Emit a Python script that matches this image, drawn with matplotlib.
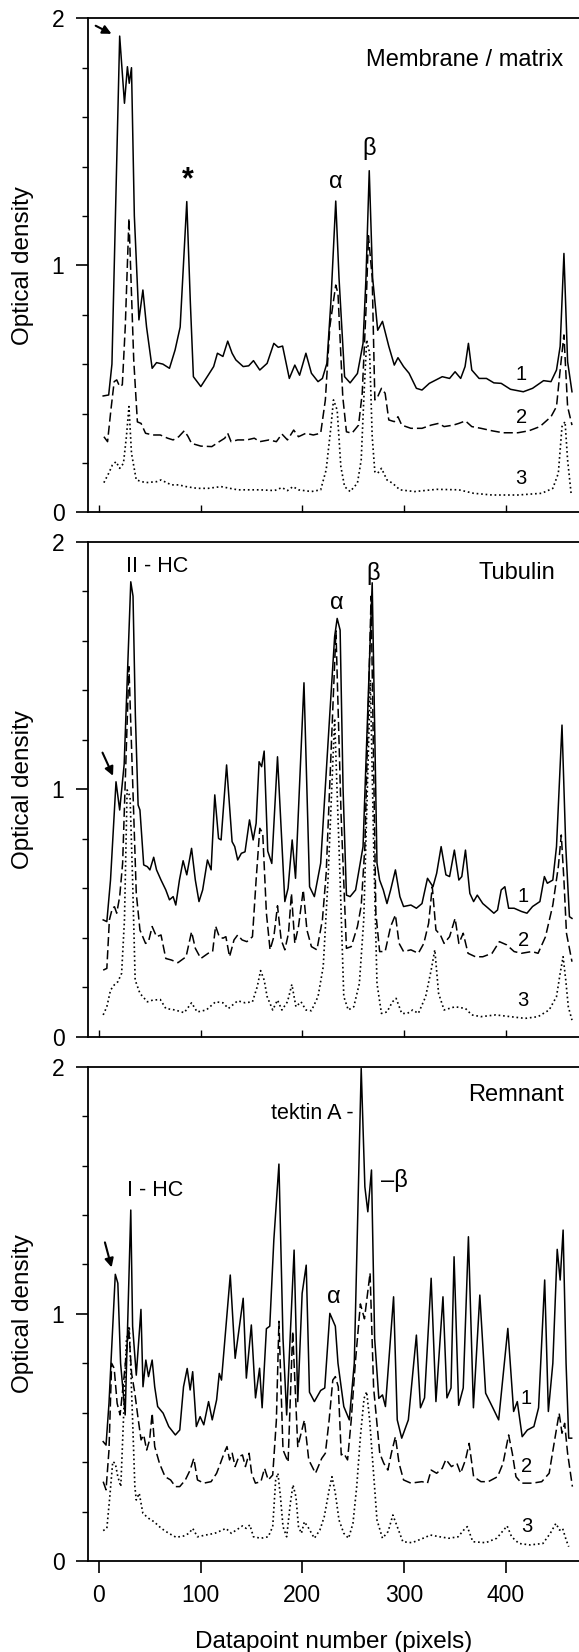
import matplotlib
matplotlib.use("Agg")
import matplotlib.pyplot as plt

plt.rcParams['font.family'] = ['Liberation Sans', 'DejaVu Sans']

# ---------------- data ----------------
# Panel 1: Membrane / matrix
p1_x1 = [4.4, 9.8, 13, 20.6, 25.3, 28.2, 30, 32.2, 35, 39.5, 43.4, 47, 52.5, 56.8, 63, 69.5, 75, 80, 86.5, 90, 93, 100.3, 107.5, 112.9,
         116.6, 122, 126.7, 131, 134.7, 141.9, 147.3, 152, 158.2, 165.4, 172, 176.3, 180.6, 187.2, 192.6, 197.3, 203.5,
         208.9, 215.4, 219.7, 224.1, 228, 232.8, 236, 241.5, 246.9, 254.1, 259.6, 262.5, 265.7, 269, 274, 278.7, 284.9,
         290.3, 293.9, 299.4, 304.8, 312, 317.5, 324.7, 337.4, 344.6, 350, 355.5, 359.8, 363.1, 366.4, 373.6, 380.8,
         388.1, 395.3, 404.4, 417, 426.1, 436.9, 444.2, 449.6, 453.2, 456.9, 460.5, 464.8]
p1_y1 = [0.471, 0.475, 0.60, 1.928, 1.656, 1.804, 1.737, 1.80, 1.20, 0.779, 0.90, 0.75, 0.583, 0.606, 0.600, 0.583, 0.657, 0.75, 1.258, 0.85, 0.549, 0.509, 0.555, 0.590,
         0.644, 0.631, 0.693, 0.644, 0.617, 0.590, 0.593, 0.614, 0.576, 0.603, 0.684, 0.668, 0.673, 0.542, 0.596, 0.555, 0.644,
         0.563, 0.529, 0.542, 0.603, 0.85, 1.260, 0.95, 0.549, 0.524, 0.562, 0.684, 0.95, 1.383, 0.95, 0.737, 0.773, 0.672,
         0.596, 0.626, 0.590, 0.563, 0.502, 0.495, 0.522, 0.549, 0.542, 0.569, 0.542, 0.590, 0.684, 0.576, 0.542, 0.542,
         0.524, 0.522, 0.498, 0.488, 0.502, 0.533, 0.529, 0.576, 0.672, 1.048, 0.610, 0.488]

p1_x2 = [5.1, 8.7, 12, 15.2, 17.7, 20.6, 23.2, 26.1, 29.7, 34.4, 38, 41.6, 46, 53.2, 60.5, 67.7, 73.1, 78.6, 84, 87.6, 91.2,
         100.3, 111.1, 118.4, 123.8, 126.7, 130, 136.5, 145.5, 152.8, 158.2, 167.3, 174.5, 179.9, 185.4, 191.5, 196.2,
         203.5, 210.7, 218, 222.6, 227, 232.8, 235, 239.7, 243.3, 248.7, 255.2, 258.8, 262.5, 264.9, 268.6, 271.2, 274,
         277.7, 281.3, 284.9, 290.3, 293.9, 297.6, 306.6, 317.5, 326.5, 333.8, 339.2, 348.3, 353.7, 360.2, 366.4, 375.4,
         386.3, 397.1, 411.6, 422.5, 433.3, 444.2, 449.6, 453.2, 456.9, 460.5, 464.8]
p1_y2 = [0.306, 0.286, 0.415, 0.529, 0.536, 0.509, 0.516, 0.752, 1.190, 0.617, 0.366, 0.360, 0.320, 0.313, 0.313, 0.300, 0.293, 0.306, 0.330, 0.308, 0.279,
         0.268, 0.266, 0.286, 0.300, 0.320, 0.286, 0.293, 0.293, 0.300, 0.286, 0.293, 0.286, 0.317, 0.293, 0.333, 0.306,
         0.320, 0.313, 0.320, 0.455, 0.752, 0.920, 0.886, 0.468, 0.326, 0.320, 0.353, 0.482, 0.819, 1.12, 0.95, 0.455, 0.468,
         0.502, 0.482, 0.374, 0.367, 0.387, 0.353, 0.340, 0.340, 0.353, 0.360, 0.347, 0.353, 0.360, 0.370, 0.347, 0.340,
         0.330, 0.322, 0.322, 0.330, 0.347, 0.387, 0.428, 0.576, 0.718, 0.428, 0.353]

p1_x3 = [5.1, 9.8, 13.4, 17, 20.6, 24.3, 27.2, 29.7, 32.2, 36.9, 46, 56.8, 61.2, 71.3, 78.6, 85.8, 96.7, 107.5, 120.2, 136.5,
         158.2, 172.7, 179.9, 185.4, 190.8, 196.2, 208.9, 218, 223.4, 228.1, 230.6, 234.2, 237.8, 241.5, 246.9, 254.1,
         257.8, 260.6, 263.2, 266.1, 268.6, 271.2, 274, 277.7, 283.1, 288.5, 295.8, 310.2, 332, 353.7, 368.2, 386.3,
         411.6, 435.1, 446, 451.4, 455, 458, 460.5, 464.1]
p1_y3 = [0.120, 0.158, 0.191, 0.205, 0.178, 0.198, 0.306, 0.428, 0.239, 0.131, 0.120, 0.124, 0.131, 0.111, 0.111, 0.104, 0.097, 0.097, 0.104, 0.091,
         0.091, 0.088, 0.100, 0.088, 0.104, 0.091, 0.084, 0.091, 0.172, 0.347, 0.455, 0.414, 0.185, 0.104, 0.084, 0.118,
         0.212, 0.482, 0.698, 0.644, 0.306, 0.164, 0.158, 0.178, 0.131, 0.118, 0.091, 0.084, 0.093, 0.091, 0.077, 0.070,
         0.070, 0.077, 0.097, 0.158, 0.347, 0.367, 0.212, 0.070]

# Panel 2: Tubulin
p2_x1 = [4.4, 8, 11.6, 17, 20.6, 25, 31.5, 33.7, 36, 38.7, 40.5, 44.2, 47.8, 50.3, 54, 56.8, 61.2, 65.9, 69.5, 73.1, 75.7, 79.3,
         82.9, 86.5, 91.2, 94.9, 98.5, 102.1, 106.8, 110.4, 114, 117.7, 120.2, 125.6, 131, 133.6, 136.5, 140.1, 143.7,
         148.1, 151.7, 154.6, 157.5, 160, 162.5, 166, 170, 175.6, 182.8, 186, 190, 193.3, 201.6, 207.1, 211.8, 218, 227,
         231.7, 234.2, 237.1, 240, 243.3, 246.9, 252.3, 259.6, 268.6, 273.3, 275.9, 279.5, 283.1, 286.7, 291.4, 295.8,
         299.4, 306.6, 312, 317.5, 322.9, 328.3, 331.9, 336.3, 341, 344.6, 349.3, 353.7, 356.6, 360.2, 364.5, 368.2,
         371.8, 377.2, 382.6, 388.1, 391.7, 395.3, 398.9, 402.6, 408, 415.2, 420.6, 426.1, 433.3, 437.7, 440.6, 446,
         449.6, 455, 458.7, 462.3, 464.8]
p2_y1 = [0.472, 0.465, 0.633, 1.030, 0.916, 1.10, 1.838, 1.78, 1.30, 0.936, 0.916, 0.694, 0.687, 0.674, 0.725, 0.674, 0.633, 0.593, 0.553, 0.566, 0.532, 0.633,
         0.711, 0.654, 0.761, 0.633, 0.546, 0.593, 0.714, 0.674, 0.977, 0.801, 0.795, 1.098, 0.788, 0.768, 0.714, 0.741, 0.747,
         0.876, 0.795, 0.862, 1.111, 1.091, 1.154, 0.75, 0.70, 1.131, 0.546, 0.60, 0.795, 0.640, 1.430, 0.606, 0.566, 0.701, 1.307,
         1.616, 1.690, 1.643, 1.0, 0.572, 0.566, 0.593, 0.768, 1.834, 0.701, 0.633, 0.593, 0.538, 0.593, 0.674, 0.566,
         0.526, 0.532, 0.519, 0.538, 0.640, 0.606, 0.660, 0.768, 0.654, 0.647, 0.754, 0.633, 0.647, 0.754, 0.579, 0.546,
         0.572, 0.538, 0.519, 0.499, 0.512, 0.593, 0.606, 0.519, 0.519, 0.506, 0.499, 0.526, 0.546, 0.647, 0.620, 0.633,
         0.768, 1.259, 0.768, 0.485, 0.478]

p2_x2 = [4.4, 8, 10.5, 13.4, 15.5, 17.7, 20.6, 23.5, 29.7, 36.9, 40.5, 46, 48.9, 52.5, 56.8, 61.2, 65.9, 71.3, 77.8, 85.8,
         91.2, 94.9, 100.3, 107.5, 111.9, 114.8, 118.4, 122, 124.9, 128.5, 132.9, 136.5, 140.8, 145.5, 151, 154.6, 158.2,
         161.1, 164.7, 168.3, 172, 175.6, 179.2, 182.8, 186.4, 189.3, 192.6, 196.2, 200.9, 204.5, 208.9, 214.3, 219.7,
         223.4, 233, 238, 243.3, 248, 254.1, 257.8, 261.4, 267.5, 272.2, 275.9, 281.3, 286.7, 291.4, 295, 299.4, 306.6,
         313.9, 319.3, 324, 327.6, 331.2, 335.6, 339.2, 344.6, 350, 353.7, 358, 362.7, 370, 377.2, 386.3, 393.5, 400.7,
         408, 415.2, 425.4, 431.5, 438.8, 446, 451.4, 454.3, 456.9, 459.4, 464.8]
p2_y2 = [0.269, 0.276, 0.472, 0.519, 0.525, 0.499, 0.566, 0.701, 1.495, 0.579, 0.431, 0.377, 0.384, 0.445, 0.404, 0.411, 0.316, 0.310, 0.299, 0.323,
         0.424, 0.357, 0.316, 0.337, 0.344, 0.447, 0.404, 0.398, 0.404, 0.323, 0.391, 0.411, 0.391, 0.384, 0.404, 0.633, 0.842,
         0.822, 0.499, 0.351, 0.404, 0.529, 0.391, 0.351, 0.418, 0.579, 0.377, 0.445, 0.593, 0.431, 0.364, 0.351, 0.472,
         0.660, 1.64, 0.90, 0.357, 0.364, 0.445, 0.529, 0.768, 1.78, 0.499, 0.344, 0.344, 0.445, 0.492, 0.377, 0.344, 0.351,
         0.337, 0.377, 0.458, 0.606, 0.431, 0.411, 0.377, 0.404, 0.478, 0.377, 0.418, 0.337, 0.323, 0.323, 0.337, 0.384, 0.371,
         0.344, 0.337, 0.344, 0.337, 0.404, 0.532, 0.687, 0.815, 0.633, 0.418, 0.303]

p2_x3 = [4.4, 8, 11.6, 15.2, 18.8, 22.5, 25.3, 27.9, 30.8, 33.3, 35.8, 40.5, 47.8, 53.2, 60.5, 65.9, 74.9, 84, 91.2, 96.7,
         105.7, 114.8, 122, 127.4, 136.5, 143.7, 151, 155.7, 159, 162.5, 165.4, 170.9, 175.6, 179.9, 185.4, 189.7, 193.7,
         198.7, 203.5, 208.9, 215.4, 220.5, 225.2, 231.7, 237.1, 240.7, 245.1, 250.5, 256, 260.3, 266.8, 270.4, 273.3,
         277.7, 283.1, 288.5, 292.1, 297.6, 303.1, 308.4, 313.9, 321.1, 326.5, 330.1, 333.8, 339.2, 350, 360.2, 366.4,
         375.4, 389.9, 404.4, 418.8, 431.5, 442.4, 449.6, 453.2, 456.1, 458.7, 461.2, 464.8]
p2_y3 = [0.088, 0.121, 0.188, 0.209, 0.222, 0.256, 0.472, 0.997, 0.970, 0.633, 0.229, 0.175, 0.141, 0.148, 0.150, 0.114, 0.108, 0.097, 0.137, 0.100,
         0.108, 0.141, 0.137, 0.114, 0.145, 0.137, 0.141, 0.202, 0.267, 0.229, 0.162, 0.108, 0.148, 0.108, 0.141, 0.211, 0.121,
         0.141, 0.108, 0.105, 0.162, 0.283, 0.633, 1.286, 0.633, 0.162, 0.108, 0.121, 0.215, 0.472, 1.441, 0.701, 0.215,
         0.094, 0.100, 0.141, 0.155, 0.094, 0.094, 0.108, 0.094, 0.162, 0.269, 0.351, 0.175, 0.108, 0.121, 0.114, 0.088,
         0.081, 0.088, 0.081, 0.074, 0.081, 0.108, 0.162, 0.256, 0.323, 0.229, 0.121, 0.067]

# Panel 3: Remnant
p3_x1 = [4.4, 7.2, 10.1, 16.3, 18.8, 21.5, 26, 31.5, 33.3, 36.9, 41.5, 43.5, 46.3, 48.9, 52.5, 55, 57.9, 63.3, 68.8, 75.3,
         79.6, 83.3, 86.9, 89.8, 92.3, 95.9, 99.6, 103.2, 107.9, 111.5, 115.8, 118.4, 120.6, 129.2, 134, 141.9, 145,
         149.9, 154, 158, 160.5, 164.7, 168, 172, 177, 181, 184.6, 191.9, 195.5, 199.8, 203.8, 207, 211.8, 218, 222,
         227, 232.4, 235, 240.7, 246.1, 251, 257.8, 261.4, 264.3, 267.9, 271, 275.1, 278.7, 281.6, 289.6, 293.2, 297.6,
         304.1, 312, 316, 320, 326.5, 331.2, 338.1, 342, 346, 349, 353.5, 358, 363.1, 368, 374.3, 380, 387.3, 392.8,
         401.8, 407.5, 411.1, 415.9, 421, 427.4, 432, 438, 441.6, 446, 450.3, 453.2, 456.1, 459, 461.6, 464.5]
p3_y1 = [0.483, 0.469, 0.638, 1.160, 1.124, 0.80, 0.591, 1.420, 0.95, 0.752, 1.018, 0.705, 0.813, 0.746, 0.813, 0.705, 0.625, 0.598, 0.544, 0.510,
         0.530, 0.705, 0.779, 0.692, 0.766, 0.544, 0.584, 0.551, 0.645, 0.571, 0.652, 0.759, 0.732, 1.157, 0.82, 1.063, 0.74,
         0.955, 0.66, 0.78, 0.62, 0.940, 0.95, 1.299, 1.606, 0.90, 0.591, 1.258, 0.645, 1.083, 1.197, 0.683, 0.645, 0.690, 0.70,
         1.002, 0.950, 0.80, 0.625, 0.571, 0.80, 1.993, 1.514, 1.413, 1.582, 0.90, 0.658, 0.672, 0.625, 1.069, 0.571, 0.497,
         0.571, 0.914, 0.62, 0.66, 1.144, 0.645, 1.069, 0.66, 0.70, 1.231, 0.63, 0.70, 1.312, 0.62, 1.076, 0.679, 0.618, 0.571,
         0.941, 0.605, 0.645, 0.503, 0.530, 0.544, 0.62, 1.137, 0.605, 0.80, 1.261, 1.137, 1.339, 0.80, 0.497, 0.497]

p3_x2 = [4.4, 7.2, 10.1, 12.7, 15.2, 18.1, 21, 25, 29.5, 32.3, 35.5, 38, 41.6, 44.2, 47.1, 50, 52.5, 55, 59.7, 65.2, 70.6,
         75.3, 79.6, 85.1, 89.8, 93.4, 97, 103.2, 110.4, 115.8, 119.5, 123.1, 126, 128.5, 131.1, 134, 137.6, 141.2, 144.1,
         147.7, 150.2, 153.9, 159.3, 162.9, 166.5, 170.9, 174.5, 177, 181, 186, 190.5, 195.5, 202, 206.3, 212.9, 219,
         222.6, 226.3, 229.9, 232.4, 235.3, 238.2, 240.7, 244.4, 248, 252, 257, 261, 266.5, 270, 276, 280, 284, 287.4,
         291.4, 295, 299.4, 306.6, 317.5, 322.9, 326.5, 331.9, 337.4, 341, 346.4, 351.8, 355.4, 360.2, 363.8, 368.2,
         375.4, 382.6, 391.7, 397.1, 402.6, 406.2, 409.8, 415.2, 426.1, 435.1, 442.4, 447.8, 452.2, 455, 457.6, 460.5,
         465.2]
p3_y2 = [0.321, 0.288, 0.449, 0.800, 0.780, 0.638, 0.591, 0.75, 0.94, 0.759, 0.679, 0.598, 0.490, 0.510, 0.449, 0.490, 0.598, 0.463, 0.395, 0.341, 0.328,
         0.301, 0.301, 0.328, 0.368, 0.415, 0.328, 0.315, 0.321, 0.355, 0.395, 0.436, 0.463, 0.409, 0.436, 0.382, 0.422, 0.429, 0.382,
         0.436, 0.355, 0.315, 0.321, 0.375, 0.328, 0.348, 0.570, 0.97, 0.45, 0.40, 0.93, 0.463, 0.570, 0.409, 0.355, 0.415,
         0.436, 0.570, 0.732, 0.746, 0.705, 0.429, 0.436, 0.409, 0.570, 0.80, 1.04, 0.98, 1.165, 0.70, 0.436, 0.395, 0.368, 0.436,
         0.503, 0.395, 0.328, 0.315, 0.321, 0.315, 0.368, 0.355, 0.375, 0.411, 0.382, 0.395, 0.355, 0.409, 0.476, 0.341,
         0.321, 0.321, 0.341, 0.395, 0.510, 0.436, 0.341, 0.315, 0.315, 0.321, 0.355, 0.490, 0.598, 0.517, 0.557, 0.436,
         0.301]

p3_x3 = [4.4, 8, 10.9, 13.8, 16.3, 18.8, 21.7, 24.3, 27.2, 30, 33.3, 35.5, 36.9, 39.8, 43.4, 48.9, 54.3, 61.5, 68.8, 76,
         83.3, 88.7, 92.3, 97, 105, 114, 121.3, 124.9, 130.3, 137.6, 141.2, 144.8, 148.4, 152, 159.3, 166.5, 170.9, 173.8,
         176, 178.5, 181, 184.6, 188.2, 190.8, 193.7, 196.2, 199.1, 202, 206.3, 211.8, 217.2, 221.5, 226.3, 229.1, 232.4,
         236, 240.7, 245.4, 249.7, 253.4, 257, 260.6, 263.2, 266.1, 269.7, 273.3, 278.7, 284.2, 288.9, 293.2, 298.7,
         307.7, 318.6, 325.8, 334.9, 343.9, 353, 358.4, 362, 367.4, 380.1, 390.9, 396.4, 401.1, 405.5, 412.7, 423.6,
         436.3, 443.5, 449, 452.6, 455.6, 459.1, 461.6]
p3_y3 = [0.123, 0.132, 0.260, 0.402, 0.395, 0.341, 0.301, 0.570, 0.894, 0.95, 0.570, 0.301, 0.247, 0.274, 0.193, 0.173, 0.159, 0.132, 0.112, 0.096,
         0.101, 0.112, 0.132, 0.098, 0.105, 0.112, 0.125, 0.132, 0.112, 0.132, 0.142, 0.132, 0.146, 0.098, 0.092, 0.098, 0.139, 0.328,
         0.355, 0.260, 0.139, 0.098, 0.233, 0.308, 0.260, 0.139, 0.112, 0.159, 0.132, 0.092, 0.125, 0.179, 0.287, 0.341, 0.274,
         0.166, 0.112, 0.092, 0.152, 0.301, 0.503, 0.658, 0.685, 0.570, 0.368, 0.166, 0.092, 0.119, 0.186, 0.139, 0.078,
         0.074, 0.092, 0.105, 0.098, 0.092, 0.098, 0.125, 0.139, 0.078, 0.074, 0.092, 0.119, 0.142, 0.098, 0.071, 0.065,
         0.071, 0.112, 0.152, 0.125, 0.132, 0.085, 0.058]

titles = ["Membrane / matrix", "Tubulin", "Remnant"]
x_ticks = [0, 100, 200, 300, 400]
y_major = [0, 1, 2]
y_minor = [0.2, 0.4, 0.6, 0.8, 1.2, 1.4, 1.6, 1.8]
trace_labels = ["1", "2", "3"]

# ---------------- figure ----------------
W, H = 579, 1652
fig = plt.figure(figsize=(W / 100, H / 100), dpi=100)

left = 87.5 / W
width = 1 - left
panel_px = [(18.3, 512.3), (541.7, 1036.7), (1066.7, 1561.0)]
XMIN, XMAX = -11.0, 471.7

styles = [dict(ls='-', lw=1.1), dict(ls=(0, (6.0, 2.6)), lw=1.1), dict(ls=(0, (1.0, 1.7)), lw=1.2)]
FS_TICK = 16.5
FS_LAB = 17.5
FS_TITLE = 17
FS_ANN = 15.5

panels = [
    ((p1_x1, p1_y1), (p1_x2, p1_y2), (p1_x3, p1_y3)),
    ((p2_x1, p2_y1), (p2_x2, p2_y2), (p2_x3, p2_y3)),
    ((p3_x1, p3_y1), (p3_x2, p3_y2), (p3_x3, p3_y3)),
]
label_pos = [
    [(415, 0.556), (415, 0.385), (415, 0.138)],
    [(417, 0.568), (417, 0.390), (417, 0.148)],
    [(420, 0.658), (420, 0.381), (420, 0.139)],
]

axes = []
for i, (top, bot) in enumerate(panel_px):
    ax = fig.add_axes([left, 1 - bot / H, width, (bot - top) / H])
    axes.append(ax)
    for (xs, ys), st in zip(panels[i], styles):
        ax.plot(xs, ys, color='black', solid_joinstyle='round', **st)
    ax.set_xlim(XMIN, XMAX)
    ax.set_ylim(0, 2)
    ax.spines['right'].set_visible(False)
    for s in ['left', 'bottom', 'top']:
        ax.spines[s].set_linewidth(1.3)
    ax.set_yticks(y_major)
    ax.set_yticklabels([str(v) for v in y_major], fontsize=FS_TICK)
    ax.set_yticks(y_minor, minor=True)
    ax.tick_params(axis='y', which='major', direction='out', length=8.6, width=1.2, pad=8)
    ax.tick_params(axis='y', which='minor', direction='out', length=4.3, width=1.0)
    ax.set_xticks(x_ticks)
    if i < 2:
        ax.tick_params(axis='x', which='major', direction='in', length=5, width=1.0,
                       labelbottom=False)
    else:
        ax.set_xticklabels([str(v) for v in x_ticks], fontsize=FS_TICK)
        ax.tick_params(axis='x', which='major', direction='out', length=8.6, width=1.2, pad=8)
        ax.set_xlabel("Datapoint number (pixels)", fontsize=FS_LAB, labelpad=17)
    ax.set_ylabel("Optical density", fontsize=FS_LAB)
    ax.yaxis.set_label_coords(-0.108, 0.5)
    for (lx, ly), t in zip(label_pos[i], trace_labels):
        ax.text(lx, ly, t, fontsize=14.5, ha='center', va='center')

a1, a2, a3 = axes
# Panel 1 annotations
a1.text(456, 1.83, titles[0], fontsize=FS_TITLE, ha='right', va='center')
a1.text(87.6, 1.345, "*", fontsize=22, ha='center', va='center', fontweight='bold')
a1.text(233.1, 1.338, "\u03b1", fontsize=FS_TITLE, ha='center', va='center')
a1.text(265.7, 1.474, "\u03b2", fontsize=FS_TITLE, ha='center', va='center')
a1.annotate("", xy=(15.0, 1.932), xytext=(-5.4, 1.975),
            arrowprops=dict(arrowstyle='-|>', color='black', lw=1.5, mutation_scale=13))

# Panel 2 annotations
a2.text(448, 1.872, titles[1], fontsize=FS_TITLE, ha='right', va='center')
a2.text(57.6, 1.899, "II - HC", fontsize=FS_ANN, ha='center', va='center')
a2.text(234.2, 1.751, "\u03b1", fontsize=FS_TITLE, ha='center', va='center')
a2.text(269.3, 1.872, "\u03b2", fontsize=FS_TITLE, ha='center', va='center')
a2.annotate("", xy=(15.2, 1.044), xytext=(2.6, 1.158),
            arrowprops=dict(arrowstyle='-|>', color='black', lw=1.5, mutation_scale=13))

# Panel 3 annotations
a3.text(457, 1.885, titles[2], fontsize=FS_TITLE, ha='right', va='center')
a3.text(250.5, 1.811, "tektin A -", fontsize=FS_ANN, ha='right', va='center')
a3.text(277.7, 1.541, "\u2013\u03b2", fontsize=FS_TITLE, ha='left', va='center')
a3.text(55.8, 1.501, "I - HC", fontsize=FS_ANN, ha='center', va='center')
a3.text(230.6, 1.069, "\u03b1", fontsize=FS_TITLE, ha='center', va='center')
a3.annotate("", xy=(13.4, 1.177), xytext=(5.4, 1.30),
            arrowprops=dict(arrowstyle='-|>', color='black', lw=1.5, mutation_scale=13))

fig.savefig("out.png", dpi=100)
